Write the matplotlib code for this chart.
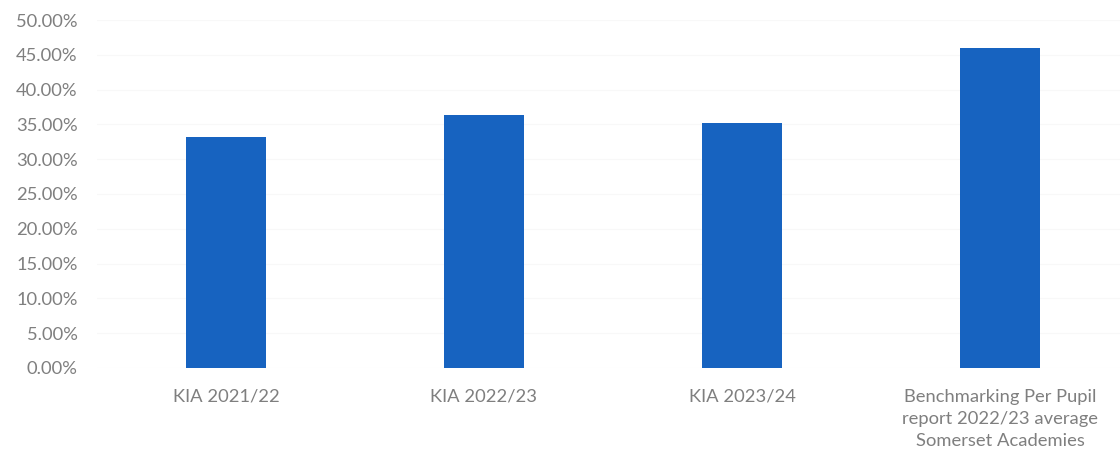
import matplotlib.pyplot as plt
from matplotlib.ticker import PercentFormatter

# Données
categories = ['KIA 2021/22', 'KIA 2022/23', 'KIA 2023/24',
              'Benchmarking Per Pupil\nreport 2022/23 average\nSomerset Academies']
valeurs = [33.2, 36.3, 35.2, 46.0]

plt.rcParams['font.family'] = ['Lato', 'DejaVu Sans']

fig = plt.figure(figsize=(11.2, 4.62), dpi=100)
ax = fig.add_axes([0.0866, 0.2035, 0.9214, 0.7532])

ax.bar(range(len(categories)), valeurs, width=0.31, color='#1763C0')

ax.set_xlim(-0.5, 3.5)
ax.set_ylim(0, 50)
ax.set_yticks(range(0, 51, 5))
ax.yaxis.set_major_formatter(PercentFormatter(decimals=2))
ax.set_xticks(range(len(categories)))
ax.set_xticklabels(categories, linespacing=1.45)

ax.grid(axis='y', color='#f8f8f8', linewidth=0.8)
ax.set_axisbelow(True)
for s in ax.spines.values():
    s.set_visible(False)
ax.tick_params(axis='both', length=0, colors='#7f7f7f', labelsize=13.2)
ax.tick_params(axis='y', pad=14)
ax.tick_params(axis='x', pad=15)

fig.savefig('out.png', dpi=100)
